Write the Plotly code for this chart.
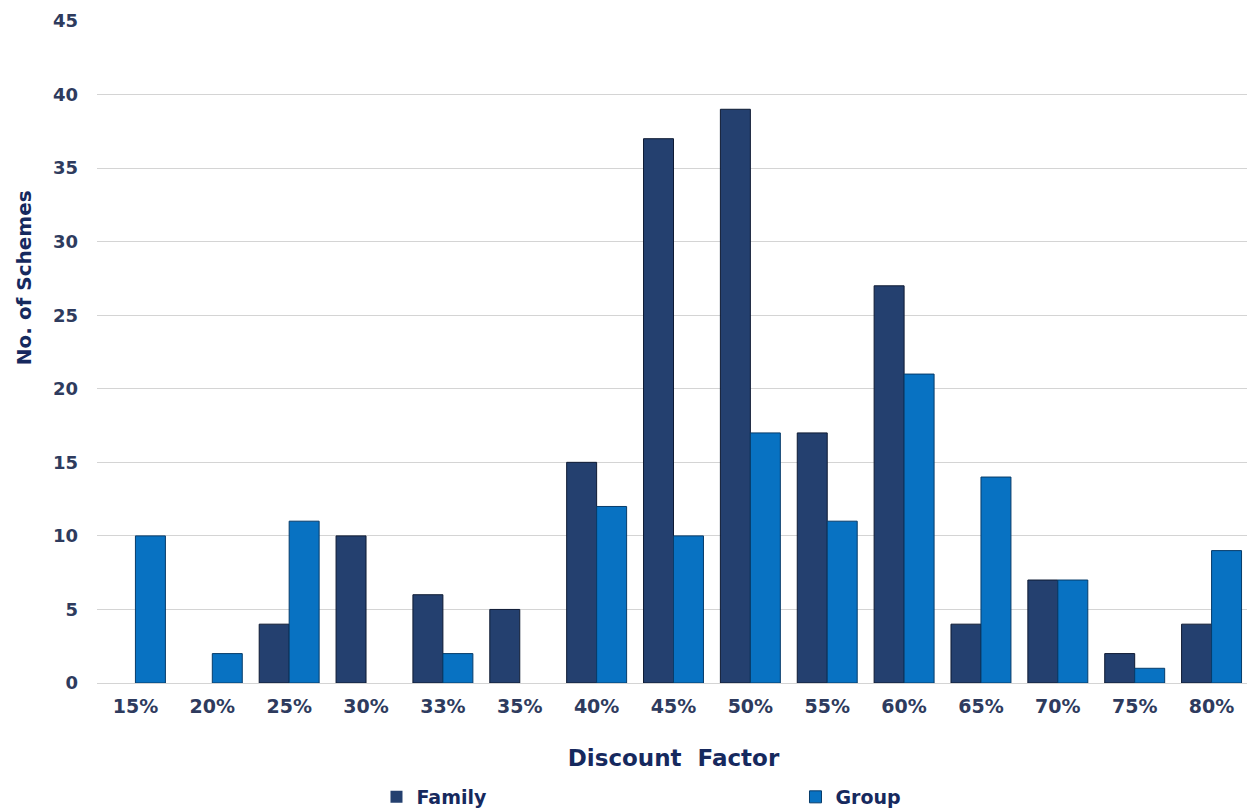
import plotly.graph_objects as go

categories = ["15%", "20%", "25%", "30%", "33%", "35%", "40%", "45%", "50%",
              "55%", "60%", "65%", "70%", "75%", "80%"]
family = [0, 0, 4, 10, 6, 5, 15, 37, 39, 17, 27, 4, 7, 2, 4]
group = [10, 2, 11, 0, 2, 0, 12, 10, 17, 11, 21, 14, 7, 1, 9]

FONT = "DejaVu Sans"
TXT = "#2E3B5E"
NAVY = "#16295E"

# the page body has an 8px margin, so the figure is sized to fit the window
W, H = 1247, 801

fig = go.Figure()
fig.add_trace(go.Bar(x=categories, y=family, name="Family",
                     marker=dict(color="#24406F",
                                 line=dict(color="#0E1A33",
                                           width=[1 if v else 0 for v in family]))))
fig.add_trace(go.Bar(x=categories, y=group, name="Group",
                     marker=dict(color="#0872C2",
                                 line=dict(color="#073C6A",
                                           width=[1 if v else 0 for v in group]))))

fig.update_layout(
    width=W, height=H,
    margin=dict(l=89, r=5, t=13, b=126, autoexpand=False),
    plot_bgcolor="white", paper_bgcolor="white",
    barmode="group", bargap=0.22, bargroupgap=0,
    font=dict(family=FONT, color=TXT, size=18),
    xaxis=dict(
        tickfont=dict(family=FONT, size=19, color=TXT, weight="bold"),
        showgrid=False, showline=False, ticks="", ticklabelstandoff=10,
        automargin=False,
        title=dict(text="Discount  Factor",
                   font=dict(family=FONT, size=23, color=NAVY, weight="bold"),
                   standoff=33),
    ),
    yaxis=dict(
        range=[0, 45], dtick=5, tickmode="linear", tick0=0,
        tickfont=dict(family=FONT, size=18, color=TXT, weight="bold"),
        gridcolor="#D4D4D4", gridwidth=1,
        zeroline=True, zerolinecolor="#D4D4D4", zerolinewidth=1,
        ticks="", ticklabelstandoff=18, automargin=False,
        showline=False,
    ),
    legend=dict(
        orientation="h", xref="container", yref="container",
        x=0.2955, xanchor="left", y=0.015, yanchor="middle",
        font=dict(family=FONT, size=19, color=NAVY, weight="bold"),
        entrywidth=374, entrywidthmode="pixels",
        itemwidth=30,
    ),
    annotations=[dict(
        text="No. of Schemes", textangle=-90,
        xref="paper", yref="paper", x=-0.0755, y=0.613,
        xanchor="left", yanchor="middle", showarrow=False,
        font=dict(family=FONT, size=20, color=NAVY, weight="bold"),
    )],
)

fig.write_html("out.html")
